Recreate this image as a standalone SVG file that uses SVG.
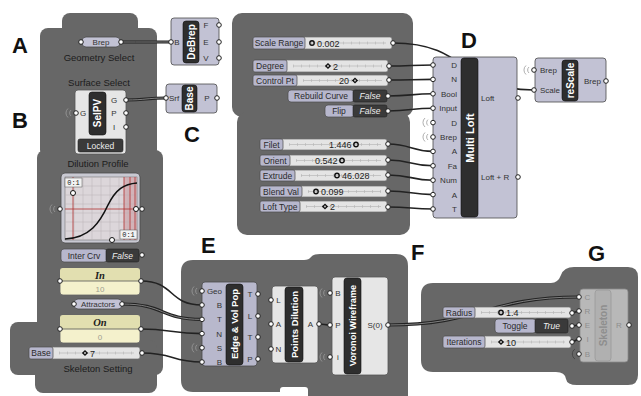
<svg xmlns="http://www.w3.org/2000/svg" width="641" height="396" viewBox="0 0 641 396">
<style>
text{font-family:"Liberation Sans",Arial,sans-serif}
.grp{fill:#676767}
.L{font-size:22px;font-weight:bold;fill:#111}
.gt{font-size:9.5px;fill:#1c1c1c;text-anchor:middle}
.cl{fill:#c2c2d4;stroke:#4a4a4a;stroke-width:.8}
.cw{fill:#e6e6e6;stroke:#555;stroke-width:.8}
.bar{fill:#2e2e2e;stroke:#111;stroke-width:.6}
.bt{font-size:10px;font-weight:bold;fill:#fff;text-anchor:middle}
.p{font-size:8px;fill:#333}
.pe{text-anchor:end}
.pm{text-anchor:middle}
.port{fill:#fff;stroke:#222;stroke-width:1}
.w{fill:none;stroke:#222;stroke-width:1.6}
.w2{fill:none;stroke:#222;stroke-width:3.2}
.w2i{fill:none;stroke:#8a8a8a;stroke-width:.9}
.sl{fill:#b7b7cd;stroke:#4a4a4a;stroke-width:.7}
.st{fill:#e4e4e4;stroke:#6a6a6a;stroke-width:.7}
.sp{font-size:8.5px;fill:#2a2a2a}
.tk{stroke:#b0b0b0;stroke-width:.6}
.tk2{stroke:#b5b5b5;stroke-width:3;stroke-dasharray:.6 7.4}
.sv{font-size:9px;fill:#222}
.mk{fill:none;stroke:#111;stroke-width:1.4}
.tg{fill:#3a3a3a;stroke:#222;stroke-width:.6}
.ft{font-size:8.5px;font-style:italic;fill:#eee;text-anchor:middle}
.wl{fill:none;stroke:#9a9a9a;stroke-width:.8}
.red{stroke:#b03030;stroke-width:.8}
.pan{font-family:"Liberation Serif",serif;font-size:10.5px;font-weight:bold;font-style:italic;fill:#222;text-anchor:middle}
.pv{font-size:8px;fill:#a0a090;text-anchor:middle}
.fd{fill:#b8b8b8;stroke:#8c8c8c;stroke-width:.8}
.fdt{font-size:8px;fill:#8e8e8e}
</style>
<rect width="641" height="396" fill="#fff"/>

<!-- groups -->
<g id="group-AB" class="grp">
<rect x="62" y="13" width="76" height="30" rx="8"/>
<rect x="40" y="28" width="117" height="130" rx="8"/>
<rect x="37" y="150" width="126" height="225" rx="8"/>
<rect x="10" y="322" width="100" height="53" rx="8"/>
<rect x="35" y="340" width="122" height="53" rx="8"/>
</g>
<g id="group-D" class="grp">
<rect x="232" y="13" width="181" height="104" rx="10"/>
<rect x="237" y="112" width="173" height="123" rx="10"/>
</g>
<g id="group-E" class="grp">
<path d="M193,260 H304 Q309,260 311,257 Q313,254 320,254 H396 Q408,254 408,266 V396 H308 V390 Q308,387 305,387 H283 Q280,387 280,390 V392 H193 Q181,392 181,380 V272 Q181,260 193,260 Z"/>
</g>
<g id="group-G" class="grp">
<path d="M433,283 H551 Q558,283 561,275 Q564,267 574,267 H628 Q638,267 638,277 V375 Q638,385 628,385 H577 Q567,385 566,379 Q565,372 556,372 H433 Q421,372 421,360 V295 Q421,283 433,283 Z"/>
</g>

<!-- letter labels -->
<g id="labels">
<text class="L" x="12" y="53">A</text>
<text class="L" x="12" y="128">B</text>
<text class="L" x="184" y="142">C</text>
<text class="L" x="461" y="48">D</text>
<text class="L" x="201" y="253">E</text>
<text class="L" x="411" y="260">F</text>
<text class="L" x="588" y="261">G</text>
<text class="gt" x="99" y="61">Geometry Select</text>
<text class="gt" x="99" y="86">Surface Select</text>
<text class="gt" x="98" y="167">Dilution Profile</text>
<text class="gt" x="98" y="372">Skeleton Setting</text>
</g>

<!-- connectors -->
<g id="connectors">
<path class="w2" d="M121,42 C145,42 147,42 171,42"/><path class="w2i" d="M121,42 C145,42 147,42 171,42"/>
<path class="w2" d="M126,100 C146,100 146,98 166,98"/><path class="w2i" d="M126,100 C146,100 146,98 166,98"/>
<path class="w" d="M141,281 C175,281 168,305 202,305"/>
<path class="w2" d="M122,304 C165,304 160,319.4 202,319.4"/><path class="w2i" d="M122,304 C165,304 160,319.4 202,319.4"/>
<path class="w" d="M141,329 C170,329 172,333.6 202,333.6"/>
<path class="w" d="M142,353 C175,353 170,362 202,362"/>
<path class="w" d="M319,324 C324,324 325,325 330,325"/>
<path class="w2" d="M388,325 C480,325 487,297 579,297"/><path class="w2i" d="M388,325 C480,325 487,297 579,297"/>
<path class="w" d="M572,313 L579,311"/>
<path class="w" d="M572,326 L579,325"/>
<path class="w" d="M572,342 C575,342 576,339 579,339"/>
<path class="w" d="M393,43 C470,43 460,90 534,90"/>
<path class="w" d="M389,66 C411,66 411,65 433,65"/>
<path class="w" d="M389,80 C411,80 411,79.4 433,79.4"/>
<path class="w" d="M388,96 C411,96 411,93.8 433,93.8"/>
<path class="w" d="M388,111 C411,111 411,108.2 433,108.2"/>
<path class="w" d="M388,144 C411,144 411,151.4 433,151.4"/>
<path class="w" d="M388,160 C411,160 411,165.8 433,165.8"/>
<path class="w" d="M388,175 C411,175 411,180.2 433,180.2"/>
<path class="w" d="M388,191 C411,191 411,194.6 433,194.6"/>
<path class="w" d="M388,207 C411,207 411,209 433,209"/>
</g>

<!-- A -->
<g id="brep-param">
<rect class="cl" x="82" y="37" width="38" height="10" rx="4"/>
<text class="p pm" x="101" y="45">Brep</text>
<circle class="port" cx="81" cy="42" r="2.3"/><circle class="port" cx="121" cy="42" r="2.3"/>
</g>
<g id="debrep">
<rect class="cl" x="171" y="18" width="48" height="47" rx="3"/>
<rect class="bar" x="183" y="21" width="16" height="42" rx="3"/>
<text class="bt" transform="translate(191,42) rotate(-90)" dy="3.5">DeBrep</text>
<text class="p pm" x="177" y="45">B</text>
<text class="p pm" x="206" y="28">F</text><text class="p pm" x="206" y="45">E</text><text class="p pm" x="206" y="61">V</text>
<circle class="port" cx="171" cy="42" r="2.3"/>
<circle class="port" cx="219" cy="25" r="2.3"/><circle class="port" cx="219" cy="42" r="2.3"/><circle class="port" cx="219" cy="58" r="2.3"/>
</g>

<!-- B -->
<g id="selpv">
<rect class="cw" x="75" y="90" width="51" height="64" rx="3"/>
<rect class="bar" x="89" y="92" width="17" height="43" rx="3"/>
<text class="bt" transform="translate(97.5,113) rotate(-90)" dy="3.5">SelPV</text>
<text class="p pm" x="83" y="116">G</text>
<text class="p pm" x="114" y="103">G</text><text class="p pm" x="114" y="116">P</text><text class="p pm" x="114" y="130">I</text>
<rect class="tg" x="78" y="139" width="45" height="13" rx="2"/>
<text class="p pm" x="100.5" y="148.5" style="fill:#eee;font-size:8.5px">Locked</text>
<path class="wl" d="M71,110 a4,4 0 0,0 0,6 M68,108.5 a6,6 0 0,0 0,9"/>
<circle class="port" cx="76" cy="113" r="2.3"/>
<circle class="port" cx="126" cy="100" r="2.3"/><circle class="port" cx="126" cy="113" r="2.3"/><circle class="port" cx="126" cy="127" r="2.3"/>
</g>

<!-- C -->
<g id="base">
<rect class="cl" x="166" y="84" width="51" height="29" rx="3"/>
<rect class="bar" x="182" y="85" width="15" height="27" rx="3"/>
<text class="bt" transform="translate(189.5,98.5) rotate(-90)" dy="3.5">Base</text>
<text class="p pm" x="174" y="101">Srf</text><text class="p pm" x="207" y="101">P</text>
<circle class="port" cx="166" cy="98" r="2.3"/><circle class="port" cx="217" cy="98" r="2.3"/>
</g>

<g id="graph-mapper">
<rect x="61" y="173" width="79" height="70" rx="4" fill="#c9c9d2" stroke="#4a4a4a" stroke-width=".8"/>
<rect x="65" y="177" width="72" height="63" fill="#dcd6da" stroke="#666" stroke-width=".5"/>
<rect x="124" y="177" width="13" height="63" fill="#c98f95" opacity=".5"/>
<path stroke="#b8b2b6" stroke-width=".5" d="M74,177V240M83,177V240M92,177V240M101,177V240M110,177V240M119,177V240M128,177V240M65,186H137M65,195H137M65,204H137M65,213H137M65,222H137M65,231H137"/>
<path class="red" d="M73,177V240M124,177V240M130,177V240M135,177V240M65,209H137"/>
<path d="M65,239 C90,238 100,222 108,205 C116,189 124,184 137,183" fill="none" stroke="#111" stroke-width="1.6"/>
<rect x="65" y="178" width="17" height="9" fill="#f2f2f2" stroke="#555" stroke-width=".5"/>
<text x="73.5" y="185" style="font-family:'Liberation Mono',monospace;font-size:7px;fill:#222" text-anchor="middle">0:1</text>
<rect x="120" y="230" width="17" height="9" fill="#f2f2f2" stroke="#555" stroke-width=".5"/>
<text x="128.5" y="237" style="font-family:'Liberation Mono',monospace;font-size:7px;fill:#222" text-anchor="middle">0:1</text>
<circle cx="73" cy="193" r="2.5" fill="#fff" stroke="#111"/>
<circle cx="136" cy="209" r="2.5" fill="#fff" stroke="#111"/>
<circle cx="112" cy="240" r="2.5" fill="#fff" stroke="#111"/>
<path class="wl" d="M55,206 a4,4 0 0,0 0,6 M52,204.5 a6,6 0 0,0 0,9"/>
<circle class="port" cx="60" cy="209" r="2.3"/><circle class="port" cx="142" cy="209" r="2.3"/>
</g>

<g id="inter-crv">
<rect class="sl" x="61" y="249" width="46" height="13" rx="3"/>
<text class="sp" x="84" y="258.5" text-anchor="middle">Inter Crv</text>
<rect class="tg" x="106" y="249" width="33" height="13" rx="2"/>
<text class="ft" x="122.5" y="258.5">False</text>
<circle class="port" cx="142" cy="255" r="2.3"/>
</g>

<g id="panel-in">
<rect x="60" y="268" width="80" height="27" rx="3" fill="#f4f1cc" stroke="#666" stroke-width=".8"/>
<path d="M63,268 H137 Q140,268 140,271 V281 H60 V271 Q60,268 63,268 Z" fill="#e2dfb0"/>
<line x1="60" y1="281" x2="140" y2="281" stroke="#555" stroke-width=".8"/>
<text class="pan" x="100" y="278.5">In</text>
<text class="pv" x="100" y="291.5">10</text>
<circle class="port" cx="60" cy="281" r="2.3"/><circle class="port" cx="141" cy="281" r="2.3"/>
</g>

<g id="attractors">
<rect class="cl" x="74" y="299" width="48" height="10" rx="4"/>
<text class="p pm" x="98" y="307">Attractors</text>
<circle class="port" cx="74" cy="304" r="2.3"/><circle class="port" cx="122" cy="304" r="2.3"/>
</g>

<g id="panel-on">
<rect x="60" y="315" width="80" height="28" rx="3" fill="#f4f1cc" stroke="#666" stroke-width=".8"/>
<path d="M63,315 H137 Q140,315 140,318 V329 H60 V318 Q60,315 63,315 Z" fill="#e2dfb0"/>
<line x1="60" y1="329" x2="140" y2="329" stroke="#555" stroke-width=".8"/>
<text class="pan" x="100" y="326">On</text>
<text class="pv" x="100" y="339.5">0</text>
<circle class="port" cx="60" cy="329" r="2.3"/><circle class="port" cx="141" cy="329" r="2.3"/>
</g>

<g id="base-slider">
<rect class="st" x="29" y="347" width="111" height="12" rx="2"/>
<rect class="sl" x="29" y="347" width="24" height="12" rx="2"/>
<text class="sp" x="41" y="356" text-anchor="middle">Base</text>
<line class="tk" x1="59" y1="353" x2="134" y2="353"/><line class="tk2" x1="59" y1="353" x2="134" y2="353"/>
<rect class="mk" x="83.5" y="351.5" width="3" height="3" transform="rotate(45 85 353)"/>
<text class="sv" x="90" y="356.5">7</text>
<circle class="port" cx="142" cy="353" r="2.3"/>
</g>

<!-- D sliders -->
<g id="scale-range">
<rect class="st" x="253" y="37" width="139" height="12" rx="2"/>
<rect class="sl" x="253" y="37" width="52" height="12" rx="2"/>
<text class="sp" x="279" y="46" text-anchor="middle">Scale Range</text>
<line class="tk" x1="311" y1="43" x2="386" y2="43"/><line class="tk2" x1="311" y1="43" x2="386" y2="43"/>
<circle class="mk" cx="312" cy="43" r="2.2"/>
<text class="sv" x="317" y="46.5">0.002</text>
<circle class="port" cx="393" cy="43" r="2.3"/>
</g>
<g id="degree">
<rect class="st" x="253" y="60" width="135" height="12" rx="2"/>
<rect class="sl" x="253" y="60" width="34" height="12" rx="2"/>
<text class="sp" x="270" y="69" text-anchor="middle">Degree</text>
<line class="tk" x1="293" y1="66" x2="382" y2="66"/><line class="tk2" x1="293" y1="66" x2="382" y2="66"/>
<rect class="mk" x="326.5" y="64.5" width="3" height="3" transform="rotate(45 328 66)"/>
<text class="sv" x="333" y="69.5">2</text>
<circle class="port" cx="389" cy="66" r="2.3"/>
</g>
<g id="control-pt">
<rect class="st" x="253" y="75" width="135" height="11" rx="2"/>
<rect class="sl" x="253" y="75" width="44" height="11" rx="2"/>
<text class="sp" x="275" y="83.5" text-anchor="middle">Control Pt</text>
<line class="tk" x1="303" y1="80.5" x2="382" y2="80.5"/><line class="tk2" x1="303" y1="80.5" x2="382" y2="80.5"/>
<text class="sv" x="339" y="84">20</text>
<rect class="mk" x="353.5" y="79" width="3" height="3" transform="rotate(45 355 80.5)"/>
<circle class="port" cx="389" cy="80" r="2.3"/>
</g>
<g id="rebuild-curve">
<rect class="sl" x="288" y="90" width="66" height="12" rx="3"/>
<text class="sp" x="321" y="99" text-anchor="middle">Rebuild Curve</text>
<rect class="tg" x="353" y="90" width="34" height="12" rx="2"/>
<text class="ft" x="370" y="99">False</text>
<circle class="port" cx="388" cy="96" r="2.3"/>
</g>
<g id="flip">
<rect class="sl" x="325" y="105" width="29" height="12" rx="3"/>
<text class="sp" x="339" y="114" text-anchor="middle">Flip</text>
<rect class="tg" x="353" y="105" width="34" height="12" rx="2"/>
<text class="ft" x="370" y="114">False</text>
<circle class="port" cx="388" cy="111" r="2.3"/>
</g>
<g id="filet">
<rect class="st" x="260" y="139" width="127" height="11" rx="2"/>
<rect class="sl" x="260" y="139" width="23" height="11" rx="2"/>
<text class="sp" x="271.5" y="147.5" text-anchor="middle">Filet</text>
<line class="tk" x1="289" y1="144.5" x2="381" y2="144.5"/><line class="tk2" x1="289" y1="144.5" x2="381" y2="144.5"/>
<text class="sv" x="329" y="148">1.446</text>
<circle class="mk" cx="356" cy="144.5" r="2.2"/>
<circle class="port" cx="388" cy="144" r="2.3"/>
</g>
<g id="orient">
<rect class="st" x="260" y="155" width="127" height="11" rx="2"/>
<rect class="sl" x="260" y="155" width="30" height="11" rx="2"/>
<text class="sp" x="275" y="163.5" text-anchor="middle">Orient</text>
<line class="tk" x1="296" y1="160.5" x2="381" y2="160.5"/><line class="tk2" x1="296" y1="160.5" x2="381" y2="160.5"/>
<text class="sv" x="315" y="164">0.542</text>
<circle class="mk" cx="342" cy="160.5" r="2.2"/>
<circle class="port" cx="388" cy="160" r="2.3"/>
</g>
<g id="extrude">
<rect class="st" x="260" y="170" width="127" height="11" rx="2"/>
<rect class="sl" x="260" y="170" width="35" height="11" rx="2"/>
<text class="sp" x="277.5" y="178.5" text-anchor="middle">Extrude</text>
<line class="tk" x1="301" y1="175.5" x2="381" y2="175.5"/><line class="tk2" x1="301" y1="175.5" x2="381" y2="175.5"/>
<circle class="mk" cx="337" cy="175.5" r="2.2"/>
<text class="sv" x="342" y="179">46.028</text>
<circle class="port" cx="388" cy="175" r="2.3"/>
</g>
<g id="blend-val">
<rect class="st" x="260" y="186" width="127" height="11" rx="2"/>
<rect class="sl" x="260" y="186" width="42" height="11" rx="2"/>
<text class="sp" x="281" y="194.5" text-anchor="middle">Blend Val</text>
<line class="tk" x1="308" y1="191.5" x2="381" y2="191.5"/><line class="tk2" x1="308" y1="191.5" x2="381" y2="191.5"/>
<circle class="mk" cx="316" cy="191.5" r="2.2"/>
<text class="sv" x="321" y="195">0.099</text>
<circle class="port" cx="388" cy="191" r="2.3"/>
</g>
<g id="loft-type">
<rect class="st" x="260" y="201" width="127" height="11" rx="2"/>
<rect class="sl" x="260" y="201" width="40" height="11" rx="2"/>
<text class="sp" x="280" y="209.5" text-anchor="middle">Loft Type</text>
<line class="tk" x1="306" y1="206.5" x2="381" y2="206.5"/><line class="tk2" x1="306" y1="206.5" x2="381" y2="206.5"/>
<rect class="mk" x="323.5" y="205" width="3" height="3" transform="rotate(45 325 206.5)"/>
<text class="sv" x="330" y="210">2</text>
<circle class="port" cx="388" cy="207" r="2.3"/>
</g>

<g id="multi-loft">
<rect class="cl" x="433" y="57" width="84" height="161" rx="3"/>
<rect class="bar" x="461" y="58" width="17" height="159" rx="3"/>
<text class="bt" style="font-size:11px" transform="translate(469.5,138) rotate(-90)" dy="4">Multi Loft</text>
<text class="p pe" x="457" y="68">D</text>
<text class="p pe" x="457" y="82.4">N</text>
<text class="p pe" x="457" y="96.8">Bool</text>
<text class="p pe" x="457" y="111.2">Input</text>
<text class="p pe" x="457" y="125.6">D</text>
<text class="p pe" x="457" y="140">Brep</text>
<text class="p pe" x="457" y="154.4">A</text>
<text class="p pe" x="457" y="168.8">Fa</text>
<text class="p pe" x="457" y="183.2">Num</text>
<text class="p pe" x="457" y="197.6">A</text>
<text class="p pe" x="457" y="212">T</text>
<text class="p" x="481" y="101">Loft</text>
<text class="p" x="481" y="180">Loft + R</text>
<path class="wl" d="M428,119.6 a4,4 0 0,0 0,6 M425,118 a6,6 0 0,0 0,9 M428,134 a4,4 0 0,0 0,6 M425,132.5 a6,6 0 0,0 0,9"/>
<circle class="port" cx="433" cy="65" r="2.3"/><circle class="port" cx="433" cy="79.4" r="2.3"/><circle class="port" cx="433" cy="93.8" r="2.3"/><circle class="port" cx="433" cy="108.2" r="2.3"/><circle class="port" cx="433" cy="122.6" r="2.3"/><circle class="port" cx="433" cy="137" r="2.3"/><circle class="port" cx="433" cy="151.4" r="2.3"/><circle class="port" cx="433" cy="165.8" r="2.3"/><circle class="port" cx="433" cy="180.2" r="2.3"/><circle class="port" cx="433" cy="194.6" r="2.3"/><circle class="port" cx="433" cy="209" r="2.3"/>
<circle class="port" cx="518" cy="98" r="2.3"/><circle class="port" cx="518" cy="177" r="2.3"/>
</g>

<g id="rescale">
<rect class="cl" x="535" y="58" width="71" height="44" rx="3"/>
<rect class="bar" x="562" y="60" width="16" height="41" rx="3"/>
<text class="bt" transform="translate(570,80.5) rotate(-90)" dy="3.5">reScale</text>
<text class="p" x="540" y="73">Brep</text>
<text class="p" x="540" y="93">Scale</text>
<text class="p" x="584" y="84">Brep</text>
<path class="wl" d="M529,67 a4,4 0 0,0 0,6 M526,65.5 a6,6 0 0,0 0,9"/>
<circle class="port" cx="534" cy="70" r="2.3"/><circle class="port" cx="534" cy="90" r="2.3"/>
<circle class="port" cx="606" cy="81" r="2.3"/>
</g>

<!-- E -->
<g id="edge-vol-pop">
<rect x="202" y="282" width="55" height="84" rx="3" fill="#b8b8cc" stroke="#4a4a4a" stroke-width=".8"/>
<rect class="bar" x="226" y="284" width="17" height="81" rx="3"/>
<text class="bt" style="font-size:9.5px" transform="translate(234.5,324) rotate(-90)" dy="3.5">Edge &amp; Vol Pop</text>
<text class="p pe" x="222" y="294">Geo</text>
<text class="p pe" x="222" y="308">B</text>
<text class="p pe" x="222" y="322.4">T</text>
<text class="p pe" x="222" y="336.6">N</text>
<text class="p pe" x="222" y="350.8">S</text>
<text class="p pe" x="222" y="365">B</text>
<text class="p pm" x="250" y="297">T</text>
<text class="p pm" x="250" y="319">L</text>
<text class="p pm" x="250" y="340">T</text>
<text class="p pm" x="250" y="362">P</text>
<path class="wl" d="M197,288 a4,4 0 0,0 0,6 M194,286.5 a6,6 0 0,0 0,9 M197,344.8 a4,4 0 0,0 0,6 M194,343.3 a6,6 0 0,0 0,9"/>
<circle class="port" cx="202" cy="291" r="2.3"/><circle class="port" cx="202" cy="305" r="2.3"/><circle class="port" cx="202" cy="319.4" r="2.3"/><circle class="port" cx="202" cy="333.6" r="2.3"/><circle class="port" cx="202" cy="347.8" r="2.3"/><circle class="port" cx="202" cy="362" r="2.3"/>
<circle class="port" cx="258" cy="294" r="2.3"/><circle class="port" cx="258" cy="316" r="2.3"/><circle class="port" cx="258" cy="337" r="2.3"/><circle class="port" cx="258" cy="359" r="2.3"/>
</g>

<g id="points-dilution">
<rect class="cw" x="272" y="286" width="46" height="77" rx="3"/>
<rect class="bar" x="285" y="287" width="18" height="75" rx="3"/>
<text class="bt" style="font-size:9.5px" transform="translate(294,324.5) rotate(-90)" dy="3.5">Points Dilution</text>
<text class="p pm" x="278.5" y="303">L</text>
<text class="p pm" x="278.5" y="327">A</text>
<text class="p pm" x="278.5" y="352">N</text>
<text class="p pm" x="310.5" y="327">A</text>
<circle class="port" cx="271" cy="300" r="2.3"/><circle class="port" cx="271" cy="324" r="2.3"/><circle class="port" cx="271" cy="349" r="2.3"/>
<circle class="port" cx="319" cy="324" r="2.3"/>
</g>

<g id="voronoi-wireframe">
<rect class="cw" x="332" y="277" width="56" height="98" rx="3"/>
<rect class="bar" x="344" y="278" width="17" height="96" rx="3"/>
<text class="bt" style="font-size:9.2px" transform="translate(352.5,325.5) rotate(-90)" dy="3.3">Voronoi Wireframe</text>
<text class="p pm" x="338" y="296">B</text>
<text class="p pm" x="338" y="328">P</text>
<text class="p pm" x="338" y="360">i</text>
<text class="p pm" x="375" y="328">S(0)</text>
<path class="wl" d="M325,290 a4,4 0 0,0 0,6 M322,288.5 a6,6 0 0,0 0,9 M325,354 a4,4 0 0,0 0,6 M322,352.5 a6,6 0 0,0 0,9"/>
<circle class="port" cx="330" cy="293" r="2.3"/><circle class="port" cx="330" cy="325" r="2.3"/><circle class="port" cx="330" cy="357" r="2.3"/>
<circle class="port" cx="388" cy="325" r="2.3"/>
</g>

<!-- G -->
<g id="radius">
<rect class="st" x="443" y="307" width="128" height="11" rx="2"/>
<rect class="sl" x="443" y="307" width="32" height="11" rx="2"/>
<text class="sp" x="459" y="315.5" text-anchor="middle">Radius</text>
<line class="tk" x1="481" y1="312.5" x2="565" y2="312.5"/><line class="tk2" x1="481" y1="312.5" x2="565" y2="312.5"/>
<circle class="mk" cx="501" cy="312.5" r="2.2"/>
<text class="sv" x="506" y="316">1.4</text>
<circle class="port" cx="572" cy="313" r="2.3"/>
</g>
<g id="toggle">
<rect class="sl" x="495" y="319" width="41" height="14" rx="3"/>
<text class="sp" x="515" y="329" text-anchor="middle">Toggle</text>
<rect class="tg" x="535" y="319" width="33" height="14" rx="2"/>
<text class="ft" x="551.5" y="329">True</text>
<circle class="port" cx="572" cy="326" r="2.3"/>
</g>
<g id="iterations">
<rect class="st" x="443" y="336" width="128" height="12" rx="2"/>
<rect class="sl" x="443" y="336" width="42" height="12" rx="2"/>
<text class="sp" x="464" y="345" text-anchor="middle">Iterations</text>
<line class="tk" x1="491" y1="342" x2="565" y2="342"/><line class="tk2" x1="491" y1="342" x2="565" y2="342"/>
<rect class="mk" x="499.5" y="340.5" width="3" height="3" transform="rotate(45 501 342)"/>
<text class="sv" x="506" y="345.5">10</text>
<circle class="port" cx="572" cy="342" r="2.3"/>
</g>
<g id="skeleton">
<rect class="fd" x="580" y="289" width="48" height="73" rx="3"/>
<rect x="595" y="290" width="16" height="71" rx="3" fill="#b0b0b0" stroke="#9a9a9a" stroke-width=".8"/>
<text class="bt" style="fill:#8e8e8e" transform="translate(603,325.5) rotate(-90)" dy="3.5">Skeleton</text>
<text class="fdt pm" x="587.5" y="300">C</text>
<text class="fdt pm" x="587.5" y="314">R</text>
<text class="fdt pm" x="587.5" y="328">E</text>
<text class="fdt pm" x="587.5" y="342">I</text>
<text class="fdt pm" x="587.5" y="357">B</text>
<text class="fdt pm" x="619" y="328">R</text>
<path d="M575,349 a6,6 0 0,0 0,10" fill="none" stroke="#444" stroke-width=".9"/>
<circle class="port" cx="579" cy="297" r="2.3"/><circle class="port" cx="579" cy="311" r="2.3"/><circle class="port" cx="579" cy="325" r="2.3"/><circle class="port" cx="579" cy="339" r="2.3"/><circle class="port" cx="579" cy="354" r="2.3"/>
<circle class="port" cx="629" cy="325" r="2.3"/>
</g>
</svg>
